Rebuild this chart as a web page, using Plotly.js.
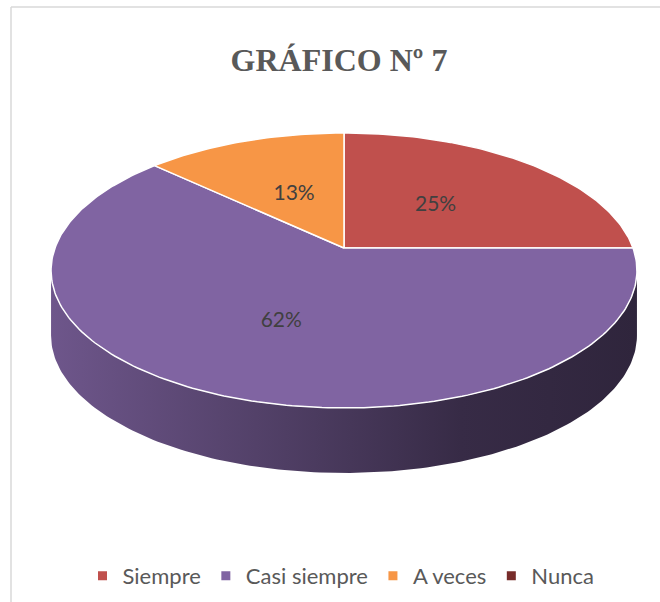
<!DOCTYPE html>
<html><head><meta charset="utf-8">
<script src="https://cdn.plot.ly/plotly-3.0.1.min.js"></script>
<style>html,body{margin:0;padding:0;background:#fff}#chart{width:660px;height:602px}</style>
</head><body><div id="chart"></div>
<script>
// ---- data ----
const categories = ['Siempre', 'Casi siempre', 'A veces', 'Nunca'];
const percents = [25, 62, 13, 0];
const colors = ['#C0504D', '#8064A2', '#F79646', '#772C2A'];
const titleText = 'GRÁFICO Nº 7';

// ---- 3D pie projection (pixel space axes) ----
const W = 660, H = 602;
const CX = 344, CY = 248, RX = 289, RY = 133.8, K = 0.1636, DEPTH = 65, LABEL_R = 0.5;
function proj(deg) {
  const t = deg * Math.PI / 180, d = 1 + K * Math.cos(t);
  return [CX + RX * Math.sin(t) / d, CY - RY * Math.cos(t) / d];
}
function shade(hex, f) {
  const n = parseInt(hex.slice(1), 16);
  const r = Math.round(((n >> 16) & 255) * f), g = Math.round(((n >> 8) & 255) * f), b = Math.round((n & 255) * f);
  return `rgb(${r},${g},${b})`;
}
const total = percents.reduce((a, b) => a + b, 0);
let acc = 0;
const slices = percents.map((v, i) => { const s = acc; acc += 360 * v / total; return { i, v, s, e: acc }; });
const thR = Math.acos(-K) * 180 / Math.PI, thL = 360 - thR;

const traces = [];
// side walls
slices.forEach(sl => {
  const a = Math.max(sl.s, thR), b = Math.min(sl.e, thL);
  if (b <= a) return;
  const n = Math.max(2, Math.ceil(b - a)), xs = [], ys = [];
  for (let j = 0; j <= n; j++) { const p = proj(a + (b - a) * j / n); xs.push(p[0]); ys.push(p[1]); }
  for (let j = n; j >= 0; j--) { const p = proj(a + (b - a) * j / n); xs.push(p[0]); ys.push(p[1] + DEPTH); }
  const c = colors[sl.i];
  traces.push({
    type: 'scatter', x: xs, y: ys, mode: 'lines', fill: 'toself',
    line: { width: 0, color: 'rgba(0,0,0,0)' },
    fillgradient: { type: 'horizontal', colorscale: [[0, shade(c, 0.86)], [0.4, shade(c, 0.62)], [0.7, shade(c, 0.43)], [1, shade(c, 0.37)]] },
    hoverinfo: 'skip', showlegend: false
  });
});
// top faces
slices.forEach(sl => {
  if (sl.v <= 0) return;
  const n = Math.max(2, Math.ceil(sl.e - sl.s)), xs = [CX], ys = [CY];
  for (let j = 0; j <= n; j++) { const p = proj(sl.s + (sl.e - sl.s) * j / n); xs.push(p[0]); ys.push(p[1]); }
  xs.push(CX); ys.push(CY);
  traces.push({
    type: 'scatter', x: xs, y: ys, mode: 'lines', fill: 'toself', fillcolor: colors[sl.i],
    line: { width: 1.5, color: '#ffffff' }, hoverinfo: 'skip', showlegend: false
  });
});
// labels
const lx = [], ly = [], lt = [];
slices.forEach(sl => {
  if (sl.v <= 0) return;
  const p = proj((sl.s + sl.e) / 2);
  lx.push(CX + LABEL_R * (p[0] - CX)); ly.push(CY + LABEL_R * (p[1] - CY)); lt.push(sl.v + '%');
});
traces.push({
  type: 'scatter', x: lx, y: ly, text: lt, mode: 'text', textposition: 'middle center',
  textfont: { family: 'Lato, "Open Sans", sans-serif', size: 21, color: '#404040' },
  hoverinfo: 'skip', showlegend: false
});
// legend entries
categories.forEach((c, i) => traces.push({
  type: 'scatter', x: [null], y: [null], mode: 'markers', name: c,
  marker: { symbol: 'square', size: 9, color: colors[i] }, showlegend: true
}));

const layout = {
  width: W, height: H, autosize: false,
  margin: { l: 0, r: 0, t: 0, b: 0 },
  paper_bgcolor: '#ffffff', plot_bgcolor: '#ffffff',
  xaxis: { range: [0, W], visible: false, fixedrange: true },
  yaxis: { range: [H, 0], visible: false, fixedrange: true },
  title: {
    text: titleText, x: 339 / W, xanchor: 'center', y: 1 - 60 / H, yanchor: 'middle', yref: 'container',
    font: { family: '"Liberation Serif", "Times New Roman", serif', size: 32, color: '#595959', weight: 'bold' }
  },
  showlegend: true,
  legend: {
    orientation: 'h', x: 0.5 + 11 / W, xanchor: 'center', y: 1 - 576 / H, yanchor: 'middle',
    font: { family: 'Lato, "Open Sans", sans-serif', size: 22, color: '#595959' },
    bgcolor: 'rgba(0,0,0,0)', itemclick: false, itemdoubleclick: false
  },
  shapes: [
    { type: 'line', xref: 'paper', yref: 'paper', x0: 11 / W, x1: 1.01, y0: 1 - 7 / H, y1: 1 - 7 / H, line: { color: '#D9D9D9', width: 1.5 } },
    { type: 'line', xref: 'paper', yref: 'paper', x0: 11 / W, x1: 11 / W, y0: 1 - 7 / H, y1: -0.01, line: { color: '#D9D9D9', width: 1.5 } }
  ]
};
Plotly.newPlot('chart', traces, layout, { displayModeBar: false, staticPlot: true });
</script>
</body></html>
